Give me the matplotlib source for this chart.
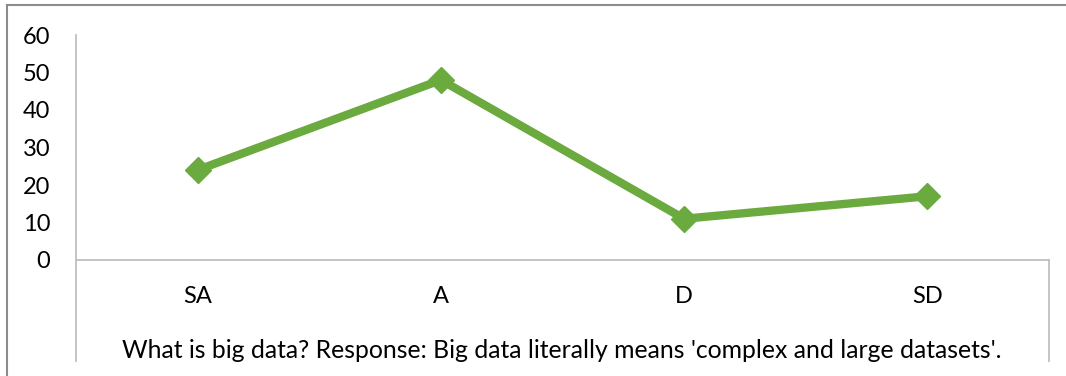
import matplotlib
matplotlib.use("Agg")
import matplotlib.pyplot as plt
from matplotlib.lines import Line2D

categories = ["SA", "A", "D", "SD"]
values = [24, 48, 11, 17]
yticks = [0, 10, 20, 30, 40, 50, 60]
caption = "What is big data? Response: Big data literally means 'complex and large datasets'."

W, H = 1066, 376
fig = plt.figure(figsize=(W / 100, H / 100), dpi=100)
plt.rcParams["font.family"] = ["Lato", "DejaVu Sans"]

x0, x1 = 76 / W, 1049 / W
y0, y1 = 1 - 260 / H, 1 - 35 / H
ax = fig.add_axes([x0, y0, x1 - x0, y1 - y0])

xs = list(range(len(categories)))
ax.plot(xs, values, color="#6BAA3F", lw=6, marker="D", ms=13,
        markerfacecolor="#6BAA3F", markeredgecolor="#6BAA3F")

ax.set_xlim(-0.5, len(categories) - 0.5)
ax.set_ylim(0, 60)
ax.set_yticks(yticks)
ax.set_yticklabels([str(t) for t in yticks], fontsize=17)
ax.tick_params(axis="y", length=0, pad=18.5)
ax.set_xticks(xs)
ax.set_xticklabels(categories, fontsize=17)
ax.tick_params(axis="x", length=0, pad=19)

for s in ["top", "right"]:
    ax.spines[s].set_visible(False)
for s in ["left", "bottom"]:
    ax.spines[s].set_color("#BFBFBF")
    ax.spines[s].set_linewidth(1.3)

# category box extension below axis
gray = "#BFBFBF"
fig.add_artist(Line2D([x0, x0], [y0, 1 - 361 / H], color=gray, lw=1.3))
fig.add_artist(Line2D([x1, x1], [y0, 1 - 361 / H], color=gray, lw=1.3))

fig.text(562 / W, 1 - 350 / H, caption, ha="center", va="center", fontsize=17.8)

# outer chart border (cropped)
fig.add_artist(Line2D([7 / W, 7 / W], [0, 1 - 5 / H], color="#8C8C8C", lw=1.5))
fig.add_artist(Line2D([7 / W, 1], [1 - 5 / H, 1 - 5 / H], color="#8C8C8C", lw=1.5))

fig.savefig("out.png", dpi=100)
